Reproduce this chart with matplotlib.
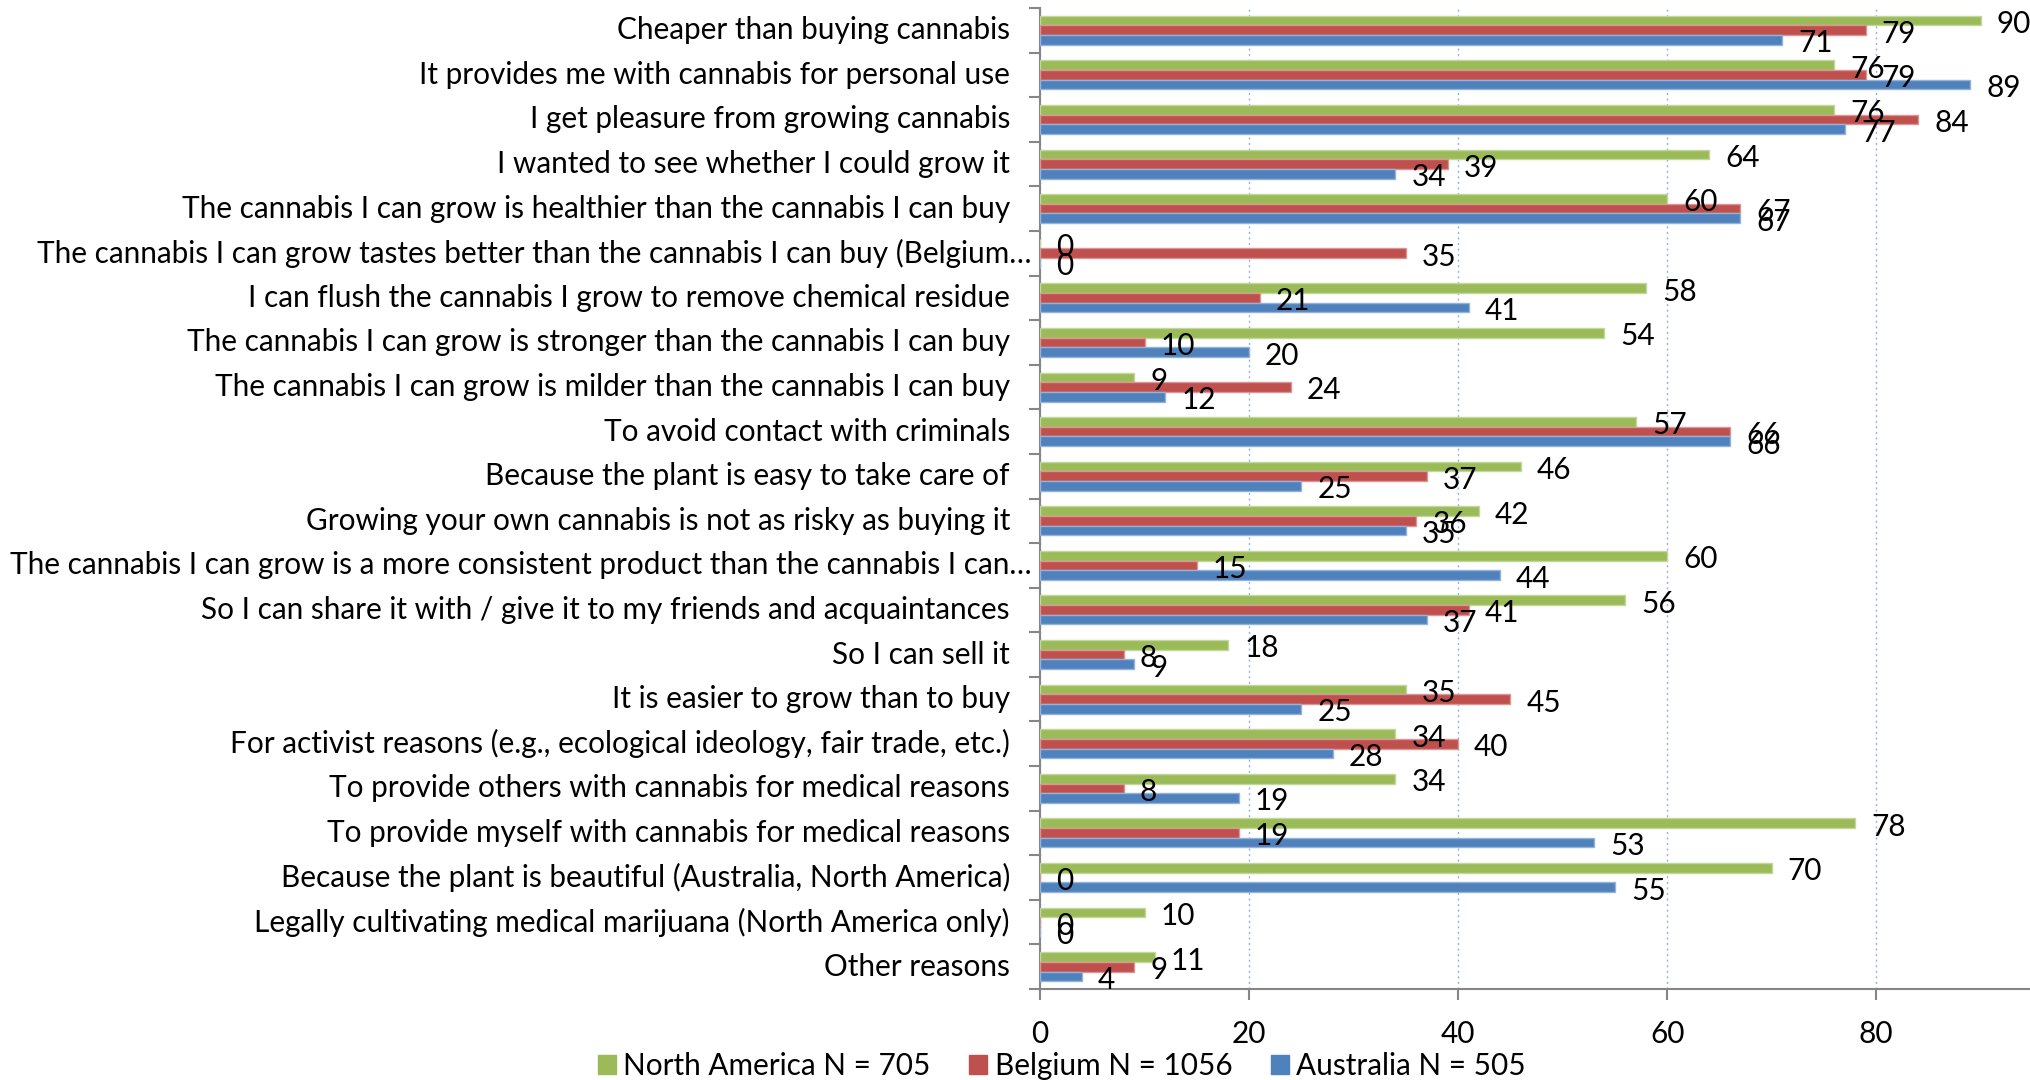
import numpy as np
import matplotlib
matplotlib.use('Agg')
import matplotlib.pyplot as plt
import matplotlib.transforms as mtransforms

categories = [
    'Cheaper than buying cannabis',
    'It provides me with cannabis for personal use',
    'I get pleasure from growing cannabis',
    'I wanted to see whether I could grow it',
    'The cannabis I can grow is healthier than the cannabis I can buy',
    'The cannabis I can grow tastes better than the cannabis I can buy (Belgium\u2026',
    'I can flush the cannabis I grow to remove chemical residue',
    'The cannabis I can grow is stronger than the cannabis I can buy',
    'The cannabis I can grow is milder than the cannabis I can buy',
    'To avoid contact with criminals',
    'Because the plant is easy to take care of',
    'Growing your own cannabis is not as risky as buying it',
    'The cannabis I can grow is a more consistent product than the cannabis I can\u2026',
    'So I can share it with / give it to my friends and acquaintances',
    'So I can sell it',
    'It is easier to grow than to buy',
    'For activist reasons (e.g., ecological ideology, fair trade, etc.)',
    'To provide others with cannabis for medical reasons',
    'To provide myself with cannabis for medical reasons',
    'Because the plant is beautiful (Australia, North America)',
    'Legally cultivating medical marijuana (North America only)',
    'Other reasons',
]
north_america = [90, 76, 76, 64, 60, 0, 58, 54, 9, 57, 46, 42, 60, 56, 18, 35, 34, 34, 78, 70, 10, 11]
belgium = [79, 79, 84, 39, 67, 35, 21, 10, 24, 66, 37, 36, 15, 41, 8, 45, 40, 8, 19, 0, 0, 9]
australia = [71, 89, 77, 34, 67, 0, 41, 20, 12, 66, 25, 35, 44, 37, 9, 25, 28, 19, 53, 55, 0, 4]
series_names = ['North America N = 705', 'Belgium N = 1056', 'Australia N = 505']
colors = ['#9BBB59', '#C0504D', '#4F81BD']
edges = ['#C3D69B', '#D99694', '#95B3D7']

plt.rcParams['font.family'] = ['Lato', 'DejaVu Sans']
fs = 21.4

fig = plt.figure(figsize=(20.31, 10.8), dpi=100)
ax = fig.add_axes([1040 / 2031, 1 - 989 / 1080, 1 - 1040 / 2031, (989 - 8) / 1080])

y = np.arange(len(categories))
h = 0.217
series = [north_america, belgium, australia]
for k, vals in enumerate(series):
    ax.barh(y + (k - 1) * h, vals, height=h, color=colors[k], edgecolor=edges[k],
            linewidth=1, label=series_names[k], zorder=3)
    # 값 표시 (막대 오른쪽)
    for yi, v in zip(y + (k - 1) * h, vals):
        ax.annotate('%d' % v, (v, yi), xytext=(11.5, -2.5), textcoords='offset points',
                    va='center', ha='left', fontsize=fs, zorder=4)

ax.set_xlim(0, 94.8)
ax.set_ylim(len(categories) - 0.5, -0.5)

# 항목 이름 - 잘린(…) 이름은 조금 오른쪽으로
ax.set_yticks(y)
ax.set_yticklabels([])
for yi, name in zip(y, categories):
    dx = -8 if name.endswith('\u2026') else -30
    tr = mtransforms.offset_copy(ax.get_yaxis_transform(), fig=fig, x=dx, y=0, units='dots')
    ax.text(0, yi, name, transform=tr, ha='right', va='center', fontsize=fs)
ax.set_yticks(np.arange(len(categories) + 1) - 0.5, minor=True)
ax.tick_params(axis='y', which='major', length=0)
ax.tick_params(axis='y', which='minor', length=8, color='#868686', width=1.5)

ax.set_xticks([0, 20, 40, 60, 80])
ax.tick_params(axis='x', which='major', length=8, color='#868686', width=1.5,
               labelsize=fs, pad=14)

ax.grid(axis='x', color='#8EB4E3', linestyle=(0, (1.5, 2.5)), linewidth=1, zorder=0)
for s in ['top', 'right']:
    ax.spines[s].set_visible(False)
for s in ['left', 'bottom']:
    ax.spines[s].set_color('#868686')
    ax.spines[s].set_linewidth(1.5)

handles = [plt.Rectangle((0, 0), 1, 1, color=c) for c in colors]
fig.legend(handles, series_names, loc='center', bbox_to_anchor=(1062 / 2031, 1 - 1066 / 1080),
           ncol=3, frameon=False, fontsize=fs, handlelength=0.6, handleheight=0.6,
           handletextpad=0.25, columnspacing=1.3)

fig.savefig('out.png', dpi=100)
